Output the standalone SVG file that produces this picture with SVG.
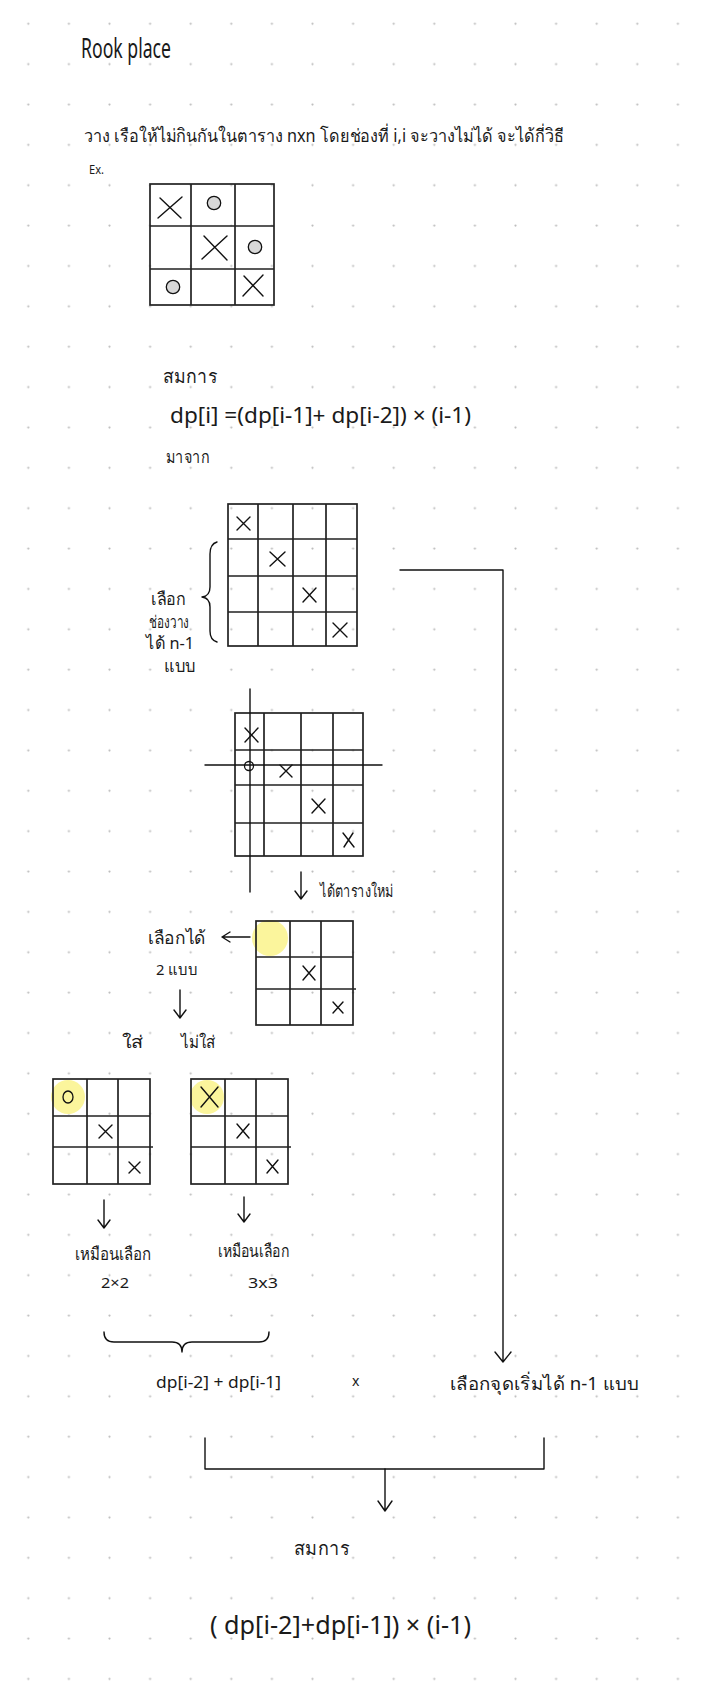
<svg xmlns="http://www.w3.org/2000/svg" width="713" height="1688" viewBox="0 0 713 1688">
<style>
.grid{fill:none;stroke:#222;stroke-width:1.7}
.pen{fill:none;stroke:#111;stroke-width:1.4;stroke-linecap:round;stroke-linejoin:round}
.hl{fill:#fbf59c}
.dot{fill:#bdbdbd}
text{font-family:"Noto Sans","DejaVu Sans",sans-serif;fill:#1a1a1a}
</style>
<defs>
<pattern id="dots" x="8" y="3.5" width="40.6" height="40.37" patternUnits="userSpaceOnUse">
<circle class="dot" cx="20.3" cy="20.2" r="1.1"/>
</pattern>
</defs>
<rect width="713" height="1688" fill="#fff"/>
<rect width="713" height="1688" fill="url(#dots)"/>

<g id="title"><text x="81" y="58" font-size="28" textLength="90" lengthAdjust="spacingAndGlyphs">Rook place</text></g>
<g id="problem"><text x="84" y="142" font-size="18" textLength="480" lengthAdjust="spacingAndGlyphs">วาง เรือให้ไม่กินกันในตาราง nxn โดยช่องที่ i,i จะวางไม่ได้  จะได้กี่วิธี</text></g>
<g id="ex"><text x="89" y="174" font-size="13" textLength="15" lengthAdjust="spacingAndGlyphs">Ex.</text></g>

<g id="board-example">
<rect class="grid" x="150" y="184" width="124" height="121"/>
<path class="grid" d="M191,184V305M235,184V305M150,226H274M150,269H274"/>
<path class="pen" d="M158,218L182,197M160,198L181,218"/>
<path class="pen" d="M202,259L227,236M204,236L227,260"/>
<path class="pen" d="M243,296L263,275M244,276L263,296"/>
<circle cx="214" cy="203" r="6.7" fill="#d8d8d8" stroke="#111" stroke-width="1.3"/>
<circle cx="255" cy="247" r="6.7" fill="#d8d8d8" stroke="#111" stroke-width="1.3"/>
<circle cx="173" cy="287" r="6.7" fill="#d8d8d8" stroke="#111" stroke-width="1.3"/>
</g>

<g id="formula-label"><text x="163" y="383" font-size="19" textLength="54" lengthAdjust="spacingAndGlyphs">สมการ</text></g>
<g id="formula"><text x="170" y="423" font-size="22" textLength="301" lengthAdjust="spacingAndGlyphs">dp[i] =(dp[i-1]+ dp[i-2]) × (i-1)</text></g>
<g id="from-label"><text x="166" y="463" font-size="17" textLength="43" lengthAdjust="spacingAndGlyphs">มาจาก</text></g>

<g id="board-4x4">
<rect class="grid" x="228" y="504" width="129" height="142"/>
<path class="grid" d="M258,504V646M293,504V646M326,504V646M228,539H357M228,576H357M228,612H357"/>
<path class="pen" d="M237,517L250,530M250,517L237,530"/>
<path class="pen" d="M270,552L285,566M285,552L270,566"/>
<path class="pen" d="M303,588L316,602M316,588L303,602"/>
<path class="pen" d="M333,623L347,637M347,623L333,637"/>
</g>
<g id="brace-left"><path class="pen" d="M217,542Q210,544 210,554L210,587Q210,596 202,597Q210,598 210,607L210,631Q210,640 217,642"/></g>
<g id="choose-label">
<text x="151" y="605" font-size="17" textLength="34" lengthAdjust="spacingAndGlyphs">เลือก</text>
<text x="149" y="628" font-size="17" textLength="40" lengthAdjust="spacingAndGlyphs">ช่องวาง</text>
<text x="146" y="649" font-size="17" textLength="48" lengthAdjust="spacingAndGlyphs">ได้ n-1</text>
<text x="164" y="672" font-size="17" textLength="32" lengthAdjust="spacingAndGlyphs">แบบ</text>
</g>

<g id="board-cross">
<rect class="grid" x="235" y="713" width="128" height="143"/>
<path class="grid" d="M264,713V856M301,713V856M333,713V856M235,750H363M235,785H363M235,823H363"/>
<path class="pen" d="M250,689V892M205,765H382"/>
<path class="pen" d="M245,728L258,742M258,728L245,742"/>
<circle cx="249" cy="766" r="4.5" fill="none" stroke="#111" stroke-width="1.3"/>
<path class="pen" d="M280,765L292,777M292,765L280,777"/>
<path class="pen" d="M312,799L325,813M325,799L312,813"/>
<path class="pen" d="M343,833L354,847M353,833L344,847"/>
</g>
<g id="new-table-label"><text x="320" y="897" font-size="17" textLength="73" lengthAdjust="spacingAndGlyphs">ได้ตารางใหม่</text></g>

<g id="board-3x3">
<circle class="hl" cx="270" cy="938" r="18"/>
<rect class="grid" x="256" y="921" width="97" height="104"/>
<path class="grid" d="M290,921V1025M321,921V1025M256,957H353M256,989H356"/>
<path class="pen" d="M303,966L315,980M315,966L303,980"/>
<path class="pen" d="M333,1002L343,1013M343,1002L333,1013"/>
</g>
<g id="choose2-label">
<text x="148" y="944" font-size="18" textLength="58" lengthAdjust="spacingAndGlyphs">เลือกได้</text>
<text x="156" y="975" font-size="15" textLength="42" lengthAdjust="spacingAndGlyphs">2 แบบ</text>
</g>
<g id="put-label"><text x="122" y="1048" font-size="17" textLength="21" lengthAdjust="spacingAndGlyphs">ใส่</text></g>
<g id="notput-label"><text x="181" y="1048" font-size="17" textLength="34" lengthAdjust="spacingAndGlyphs">ไม่ใส่</text></g>

<g id="board-put">
<circle class="hl" cx="68" cy="1097" r="17"/>
<rect class="grid" x="53" y="1079" width="97" height="105"/>
<path class="grid" d="M87,1079V1184M118,1079V1184M53,1116H150M53,1147H153"/>
<ellipse cx="68" cy="1097" rx="5" ry="6" fill="none" stroke="#111" stroke-width="1.3"/>
<path class="pen" d="M99,1125L112,1138M112,1125L99,1138"/>
<path class="pen" d="M129,1162L140,1173M140,1162L129,1173"/>
</g>
<g id="board-notput">
<circle class="hl" cx="207" cy="1097" r="17"/>
<rect class="grid" x="191" y="1079" width="97" height="105"/>
<path class="grid" d="M225,1079V1184M256,1079V1184M191,1116H288M191,1147H291"/>
<path class="pen" d="M201,1087L218,1107M218,1087L201,1107"/>
<path class="pen" d="M237,1124L249,1138M249,1124L237,1138"/>
<path class="pen" d="M267,1160L278,1173M278,1160L267,1173"/>
</g>
<g id="same2-label">
<text x="75" y="1260" font-size="17" textLength="76" lengthAdjust="spacingAndGlyphs">เหมือนเลือก</text>
<text x="101" y="1288" font-size="14" textLength="28" lengthAdjust="spacingAndGlyphs">2×2</text>
</g>
<g id="same3-label">
<text x="218" y="1257" font-size="17" textLength="71" lengthAdjust="spacingAndGlyphs">เหมือนเลือก</text>
<text x="248" y="1288" font-size="14" textLength="30" lengthAdjust="spacingAndGlyphs">3x3</text>
</g>

<g id="sum-label"><text x="156" y="1388" font-size="16" textLength="125" lengthAdjust="spacingAndGlyphs">dp[i-2] + dp[i-1]</text></g>
<g id="times-label"><text x="352" y="1386" font-size="14">x</text></g>
<g id="start-label"><text x="450" y="1390" font-size="18" textLength="188" lengthAdjust="spacingAndGlyphs">เลือกจุดเริ่มได้ n-1 แบบ</text></g>

<g id="result-label"><text x="294" y="1555" font-size="19" textLength="55" lengthAdjust="spacingAndGlyphs">สมการ</text></g>
<g id="result"><text x="210" y="1634" font-size="26" textLength="261" lengthAdjust="spacingAndGlyphs">( dp[i-2]+dp[i-1]) × (i-1)</text></g>

<g id="connectors">
<path class="pen" d="M400,570H503V1362M495,1352L503,1362L511,1352"/>
<path class="pen" d="M301,872V899M295,891L301,899L307,891"/>
<path class="pen" d="M250,937H222M230,932L222,937L230,942"/>
<path class="pen" d="M180,990V1018M174,1010L180,1018L186,1010"/>
<path class="pen" d="M104,1200V1228M98,1220L104,1228L110,1220"/>
<path class="pen" d="M244,1197V1222M238,1214L244,1222L250,1214"/>
<path class="pen" d="M104,1332Q104,1342 114,1342L172,1342Q182,1342 182,1352Q182,1342 192,1342L259,1342Q269,1342 269,1332"/>
<path class="pen" d="M205,1438V1469H544V1438"/>
<path class="pen" d="M385,1469V1511M378,1501L385,1511L392,1501"/>
</g>
</svg>
